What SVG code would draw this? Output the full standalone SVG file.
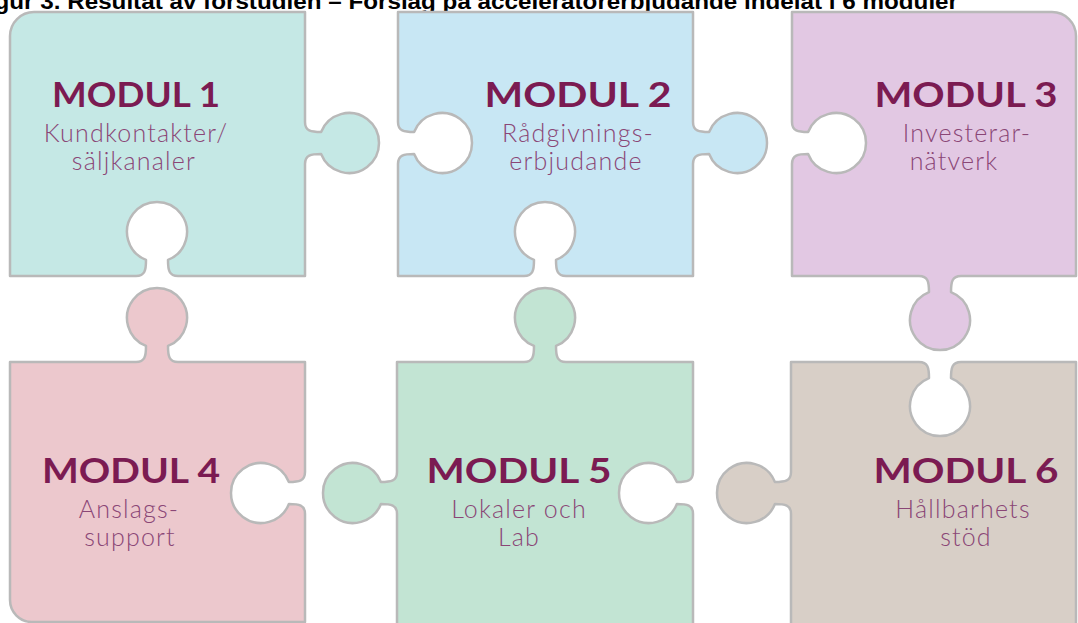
<svg xmlns="http://www.w3.org/2000/svg" width="1078" height="623" viewBox="0 0 1078 623">
<style>
.pc{stroke:#b9b9b9;stroke-width:2.5;stroke-linejoin:round}
.h{font-family:Lato,"Liberation Sans",sans-serif;font-weight:700;font-size:35px;fill:#7b1b52;text-anchor:middle}
.s{font-family:Lato,"Liberation Sans",sans-serif;font-weight:300;font-size:25px;letter-spacing:1.2px;fill:#8a4676;text-anchor:middle}
.t{font-family:"Liberation Sans",Arial,sans-serif;font-weight:700;font-size:22px;fill:#000}
</style>
<rect width="1078" height="623" fill="#ffffff"/>
<text class="t" x="-27" y="9" textLength="985" lengthAdjust="spacingAndGlyphs">Figur 3. Resultat av förstudien – Förslag på acceleratorerbjudande indelat i 6 moduler</text>
<g id="connectors"></g>
<g id="modul1">
<path class="pc" fill="#c5e8e5" d="M10 36A24 24 0 0 1 34 12H305V122C305 131 311 132 321.1 132A30 30 0 1 1 321.1 154C311 154 305 155 305 164V276H178C169 276 168 270 168 259.9A30 30 0 1 0 146 259.9C146 270 145 276 136 276H10Z"/>
<text class="h" x="136" y="107" textLength="168" lengthAdjust="spacingAndGlyphs">MODUL 1</text>
<text class="s" x="136" y="142">Kundkontakter/</text>
<text class="s" x="134" y="170">säljkanaler</text>
</g>
<g id="modul2">
<path class="pc" fill="#c8e7f4" d="M398 12H693V122C693 131 699 132 709.1 132A30 30 0 1 1 709.1 154C699 154 693 155 693 164V276H566C557 276 556 270 556 259.9A30 30 0 1 0 534 259.9C534 270 533 276 524 276H398V164C398 155 404 154 414.1 154A30 30 0 1 0 414.1 132C404 132 398 131 398 122Z"/>
<text class="h" x="578" y="107" textLength="187" lengthAdjust="spacingAndGlyphs">MODUL 2</text>
<text class="s" x="578" y="142">Rådgivnings-</text>
<text class="s" x="576" y="170">erbjudande</text>
</g>
<g id="modul3">
<path class="pc" fill="#e2c8e3" d="M792 12H1052A24 24 0 0 1 1076 36V276H961C952 276 951 282 951 292.1A30 30 0 1 1 929 292.1C929 282 928 276 919 276H792V164C792 155 798 154 808.1 154A30 30 0 1 0 808.1 132C798 132 792 131 792 122Z"/>
<text class="h" x="966" y="107" textLength="183" lengthAdjust="spacingAndGlyphs">MODUL 3</text>
<text class="s" x="967" y="142">Investerar-</text>
<text class="s" x="954" y="170">nätverk</text>
</g>
<g id="modul4">
<path class="pc" fill="#ecc8cd" d="M10 362H136C145 362 146 356 146 345.9A30 30 0 1 1 168 345.9C168 356 169 362 178 362H305V472C305 481 299 482 288.9 482A30 30 0 1 0 288.9 504C299 504 305 505 305 514V622H32A22 22 0 0 1 10 600Z"/>
<text class="h" x="131" y="483" textLength="178" lengthAdjust="spacingAndGlyphs">MODUL 4</text>
<text class="s" x="129" y="518">Anslags-</text>
<text class="s" x="130" y="546">support</text>
</g>
<g id="modul5">
<path class="pc" fill="#c2e4d3" d="M397 640V514C397 505 391 504 380.9 504A30 30 0 1 1 380.9 482C391 482 397 481 397 472V362H524C533 362 534 356 534 345.9A30 30 0 1 1 556 345.9C556 356 557 362 566 362H693V472C693 481 687 482 676.9 482A30 30 0 1 0 676.9 504C687 504 693 505 693 514V640Z"/>
<text class="h" x="519" y="483" textLength="185" lengthAdjust="spacingAndGlyphs">MODUL 5</text>
<text class="s" x="519" y="518">Lokaler och</text>
<text class="s" x="519" y="546">Lab</text>
</g>
<g id="modul6">
<path class="pc" fill="#d8cfc7" d="M791 640V514C791 505 785 504 774.9 504A30 30 0 1 1 774.9 482C785 482 791 481 791 472V362H919C928 362 929 368 929 378.1A30 30 0 1 0 951 378.1C951 368 952 362 961 362H1076V640Z"/>
<text class="h" x="966" y="483" textLength="185" lengthAdjust="spacingAndGlyphs">MODUL 6</text>
<text class="s" x="963" y="518">Hållbarhets</text>
<text class="s" x="966" y="546">stöd</text>
</g>
</svg>
